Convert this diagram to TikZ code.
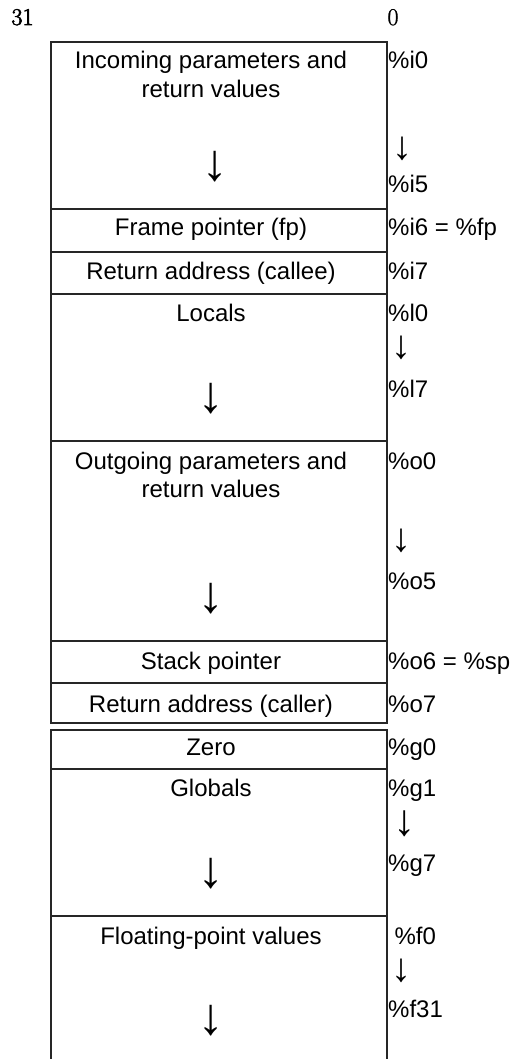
\documentclass[tikz,border=0pt]{standalone}
\usepackage{fontspec}
\newfontfamily\lblfont{Liberation Sans}
\newfontfamily\arrowfont{Liberation Mono}
\newfontfamily\bitfont{Latin Modern Roman}[FakeBold=2.5]
\newfontfamily\bitfontlight{Latin Modern Roman}[FakeBold=1.2]
\tikzset{
  cellline/.style={draw=black!85, line width=2pt},
  lbl/.style={font=\lblfont\fontsize{24}{28.8}\selectfont, inner sep=0pt, anchor=base, align=center},
  reg/.style={font=\lblfont\fontsize{24}{28.8}\selectfont, inner sep=0pt, anchor=base west},
  bitno/.style={font=\bitfont\fontsize{24}{26}\selectfont, inner sep=0pt, anchor=base},
  bigarr/.style={font=\arrowfont\fontsize{52}{52}\selectfont, inner sep=0pt, anchor=center},
  smallarr/.style={font=\arrowfont\fontsize{40}{40}\selectfont, inner sep=0pt, anchor=center},
}
\begin{document}
\begin{tikzpicture}[x=1pt,y=-1pt]
\useasboundingbox (0,0) rectangle (511,1059);
% bit numbers
\node[bitno] (b31) at (22.5,25) {31};
\node[bitno,font=\bitfontlight\fontsize{24}{26}\selectfont] (b0) at (393,25) {0};
% cells
\draw[cellline] (51,41.7) rectangle (387,209.3);
\draw[cellline] (51,209.3) rectangle (387,251.7);
\draw[cellline] (51,251.7) rectangle (387,294.3);
\draw[cellline] (51,294.3) rectangle (387,440.7);
\draw[cellline] (51,440.7) rectangle (387,641);
\draw[cellline] (51,641) rectangle (387,683.3);
\draw[cellline] (51,683.3) rectangle (387,723.3);
\draw[cellline] (51,730) rectangle (387,769);
\draw[cellline] (51,769) rectangle (387,915.7);
\draw[cellline] (51,1066) -- (51,915.7) -- (387,915.7) -- (387,1066);
% cell texts (base = baseline of last line)
\node[lbl] (incoming) at (211,97.1) {Incoming parameters and\\return values};
\node[lbl] (fp) at (211,235.5) {Frame pointer (fp)};
\node[lbl] (retcallee) at (211,279) {Return address (callee)};
\node[lbl] (locals) at (211,321) {Locals};
\node[lbl] (outgoing) at (211,497.8) {Outgoing parameters and\\return values};
\node[lbl] (sp) at (211,669) {Stack pointer};
\node[lbl] (retcaller) at (211,712) {Return address (caller)};
\node[lbl] (zero) at (211,755.5) {Zero};
\node[lbl] (globals) at (211,796) {Globals};
\node[lbl] (float) at (211,944) {Floating-point values};
% big arrows
\node[bigarr] (a1) at (215,166.3) {↓};
\node[bigarr] (a2) at (211,398.3) {↓};
\node[bigarr] (a3) at (211,598.3) {↓};
\node[bigarr] (a4) at (211,873.3) {↓};
\node[bigarr] (a5) at (211,1020.5) {↓};
% register labels
\node[reg] (ri0) at (388,68.3) {\%i0};
\node[smallarr] (si) at (402.5,149) {↓};
\node[reg] (ri5) at (388,192.7) {\%i5};
\node[reg] (ri6) at (388,235.5) {\%i6 = \%fp};
\node[reg] (ri7) at (388,279) {\%i7};
\node[reg] (rl0) at (388,321) {\%l0};
\node[smallarr] (sl) at (401.7,348) {↓};
\node[reg] (rl7) at (388,397) {\%l7};
\node[reg] (ro0) at (388,469) {\%o0};
\node[smallarr] (so) at (401.7,541) {↓};
\node[reg] (ro5) at (388,589) {\%o5};
\node[reg] (ro6) at (388,669) {\%o6 = \%sp};
\node[reg] (ro7) at (388,712) {\%o7};
\node[reg] (rg0) at (388,755.5) {\%g0};
\node[reg] (rg1) at (388,796) {\%g1};
\node[smallarr,font=\arrowfont\fontsize{44}{44}\selectfont] (sg) at (404.3,824) {↓};
\node[reg] (rg7) at (388,871.5) {\%g7};
\node[reg] (rf0) at (394.3,944) {\%f0};
\node[smallarr] (sf) at (401.7,971) {↓};
\node[reg] (rf31) at (388,1017) {\%f31};
\end{tikzpicture}
\end{document}
